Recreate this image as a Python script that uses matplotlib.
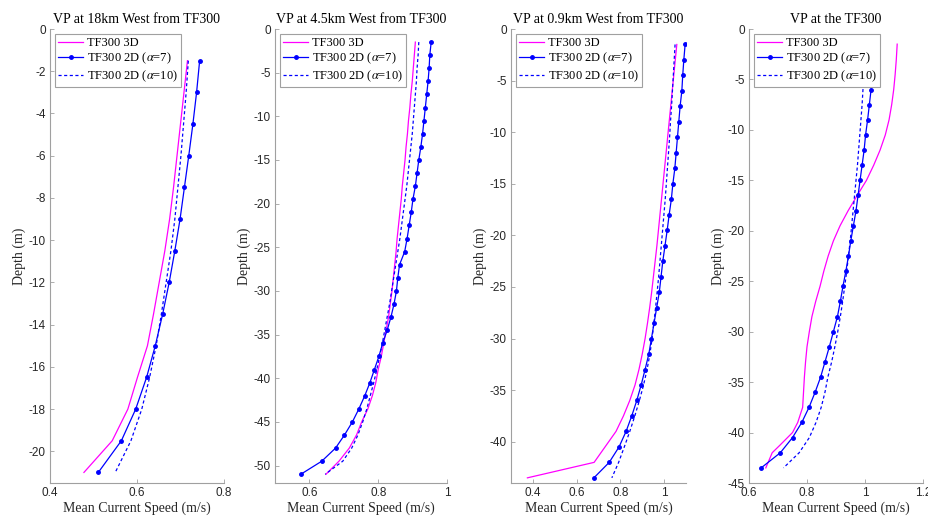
import matplotlib
matplotlib.use("Agg")
import matplotlib.pyplot as plt
from matplotlib.ticker import FuncFormatter

plt.rcParams['mathtext.fontset'] = 'stix'

# ---------------- data ----------------
titles = ["VP at 18km West from TF300", "VP at 4.5km West from TF300",
          "VP at 0.9km West from TF300", "VP at the TF300"]
labels = ["TF300 3D", r"TF300 2D ($\alpha$=7)", r"TF300 2D ($\alpha$=10)"]

# Panel 1
depth1 = [-1.5, -3, -4.5, -6, -7.5, -9, -10.5, -12, -13.5, -15, -16.5, -18, -19.5, -21]
mag1 = [0.716, 0.708, 0.700, 0.692, 0.684, 0.675, 0.664, 0.651, 0.638, 0.624, 0.601, 0.579, 0.543, 0.478]
blue1 = [0.744, 0.737, 0.7285, 0.719, 0.709, 0.699, 0.687, 0.674, 0.659, 0.642, 0.622, 0.597, 0.564, 0.511]
dash1 = [0.718, 0.713, 0.707, 0.701, 0.694, 0.687, 0.678, 0.667, 0.656, 0.644, 0.629, 0.611, 0.586, 0.550]

# Panel 2
depth2 = [-1.5, -3, -4.5, -6, -7.5, -9, -10.5, -12, -13.5, -15, -16.5, -18, -19.5, -21,
          -22.5, -24, -25.5, -27, -28.5, -30, -31.5, -33, -34.5, -36, -37.5, -39, -40.5,
          -42, -43.5, -45, -46.5, -48, -49.5, -51]
mag2 = [0.908, 0.905, 0.902, 0.899, 0.895, 0.892, 0.888, 0.885, 0.881, 0.878, 0.874, 0.870,
        0.867, 0.863, 0.859, 0.855, 0.852, 0.848, 0.844, 0.840, 0.835, 0.830, 0.823, 0.816,
        0.809, 0.800, 0.793, 0.783, 0.770, 0.752, 0.737, 0.716, 0.686, 0.648]
blue2 = [0.954, 0.950, 0.948, 0.945, 0.941, 0.937, 0.933, 0.929, 0.924, 0.918, 0.913, 0.908,
         0.901, 0.896, 0.890, 0.884, 0.877, 0.862, 0.857, 0.853, 0.846, 0.837, 0.826, 0.813,
         0.802, 0.789, 0.776, 0.761, 0.744, 0.725, 0.702, 0.676, 0.636, 0.575]
dash2 = [0.918, 0.916, 0.913, 0.911, 0.908, 0.905, 0.902, 0.899, 0.895, 0.891, 0.887, 0.883,
         0.878, 0.873, 0.868, 0.863, 0.857, 0.851, 0.845, 0.839, 0.833, 0.826, 0.819, 0.812,
         0.804, 0.796, 0.787, 0.777, 0.767, 0.755, 0.741, 0.723, 0.697, 0.646]

# Panel 3
depth3 = [-1.5, -3, -4.5, -6, -7.5, -9, -10.5, -12, -13.5, -15, -16.5, -18, -19.5, -21,
          -22.5, -24, -25.5, -27, -28.5, -30, -31.5, -33, -34.5, -36, -37.5, -39, -40.5,
          -42, -43.5]
mag3 = [1.058, 1.051, 1.044, 1.037, 1.030, 1.023, 1.016, 1.009, 1.002, 0.995, 0.988, 0.981,
        0.974, 0.967, 0.959, 0.951, 0.943, 0.934, 0.924, 0.913, 0.900, 0.885, 0.867, 0.843,
        0.814, 0.780, 0.730, 0.680, 0.375]
blue3 = [1.096, 1.090, 1.085, 1.081, 1.073, 1.067, 1.061, 1.055, 1.049, 1.040, 1.033, 1.023,
         1.014, 1.004, 0.994, 0.986, 0.978, 0.966, 0.954, 0.942, 0.930, 0.913, 0.895, 0.875,
         0.852, 0.826, 0.794, 0.749, 0.679]
dash3 = [1.050, 1.046, 1.042, 1.038, 1.034, 1.029, 1.025, 1.020, 1.015, 1.010, 1.005, 0.999,
         0.993, 0.987, 0.981, 0.975, 0.968, 0.961, 0.953, 0.945, 0.935, 0.922, 0.906, 0.887,
         0.866, 0.843, 0.818, 0.792, 0.761]

# Panel 4
depth4 = depth3
depth4_mag = [-1.5, -3, -4.5, -6, -7.5, -9, -10.5, -12, -13.5, -15, -16.5, -18, -19.5, -21,
              -22.5, -24, -25.5, -27, -28.5, -30, -31.5, -33, -34.5, -36, -37.5, -39, -40,
              -41.3, -42, -43.5]
mag4 = [1.111, 1.108, 1.104, 1.099, 1.092, 1.083, 1.070, 1.052, 1.030, 1.005, 0.973, 0.942,
        0.914, 0.891, 0.873, 0.858, 0.845, 0.830, 0.817, 0.808, 0.800, 0.795, 0.791, 0.788,
        0.785, 0.768, 0.750, 0.705, 0.680, 0.658]
blue4 = [1.040, 1.034, 1.028, 1.021, 1.015, 1.009, 1.002, 0.997, 0.990, 0.983, 0.976, 0.969,
         0.960, 0.951, 0.943, 0.934, 0.924, 0.915, 0.905, 0.891, 0.877, 0.862, 0.847, 0.828,
         0.807, 0.782, 0.750, 0.708, 0.642]
dash4 = [1.003, 1.000, 0.997, 0.993, 0.990, 0.986, 0.982, 0.978, 0.974, 0.969, 0.964, 0.959,
         0.954, 0.949, 0.943, 0.937, 0.930, 0.923, 0.915, 0.906, 0.896, 0.885, 0.872, 0.862,
         0.849, 0.831, 0.808, 0.773, 0.719]

panels = [
    (depth1, mag1, depth1, blue1, dash1),
    (depth2, mag2, depth2, blue2, dash2),
    (depth3, mag3, depth3, blue3, dash3),
    (depth4_mag, mag4, depth4, blue4, dash4),
]
xlims = [(0.4, 0.8), (0.5, 1.0), (0.3, 1.1), (0.6, 1.2)]
ylims = [(-21.5, 0), (-52, 0), (-44, 0), (-45, 0)]
xticks = [[0.4, 0.6, 0.8], [0.6, 0.8, 1.0], [0.4, 0.6, 0.8, 1.0], [0.6, 0.8, 1.0, 1.2]]
yticks = [list(range(0, -21, -2)), list(range(0, -51, -5)), list(range(0, -41, -5)),
          list(range(0, -46, -5))]

# ---------------- layout ----------------
W, H = 929, 522
lefts = [50, 275, 511, 749]
widths = [174, 172, 175, 174]
top_px, bot_px = 29, 483

fig = plt.figure(figsize=(W / 100, H / 100), dpi=100)
serif = ['Liberation Serif', 'DejaVu Serif']
sans = ['Liberation Sans', 'DejaVu Sans']
axis_col = '#a0a0a0'
text_col = '#262626'
fmt = FuncFormatter(lambda v, p: ('%g' % v))

for i in range(4):
    ax = fig.add_axes([lefts[i] / W, 1 - bot_px / H, widths[i] / W, (bot_px - top_px) / H])
    dm, m, db, b, d = panels[i]
    ax.plot(m, dm, color='#ff00ff', lw=0.9, label=labels[0])
    ax.plot(b, db, color='#0000ff', lw=0.9, marker='o', ms=2.5, label=labels[1])
    ax.plot(d, db, color='#0000ff', lw=0.9, linestyle=(0, (2.5, 2.0)), label=labels[2])
    ax.set_xlim(*xlims[i])
    ax.set_ylim(*ylims[i])
    ax.set_xticks(xticks[i])
    ax.set_yticks(yticks[i])
    ax.xaxis.set_major_formatter(fmt)
    ax.yaxis.set_major_formatter(fmt)
    for s in ['top', 'right']:
        ax.spines[s].set_visible(False)
    for s in ['left', 'bottom']:
        ax.spines[s].set_color(axis_col)
        ax.spines[s].set_linewidth(0.8)
    ax.tick_params(direction='in', length=3, width=0.6, color=axis_col,
                   labelcolor=text_col, labelsize=8.5, pad=3)
    for lab in ax.get_xticklabels() + ax.get_yticklabels():
        lab.set_family(sans)
    ax.set_title(titles[i], family=serif, fontsize=10, color='black', pad=4)
    ax.set_xlabel("Mean Current Speed (m/s)", family=serif, fontsize=10, color=text_col, labelpad=2)
    ax.set_ylabel("Depth (m)", family=serif, fontsize=10, color=text_col, labelpad=2)
    leg = ax.legend(loc='upper left', prop={'family': serif, 'size': 9}, frameon=True,
                    fancybox=False, framealpha=1, edgecolor='#a0a0a0', borderpad=0.25,
                    labelspacing=0.15, handlelength=2.0, handletextpad=0.3,
                    borderaxespad=0.4)
    leg.get_frame().set_linewidth(0.8)

fig.savefig("out.png", dpi=100)
